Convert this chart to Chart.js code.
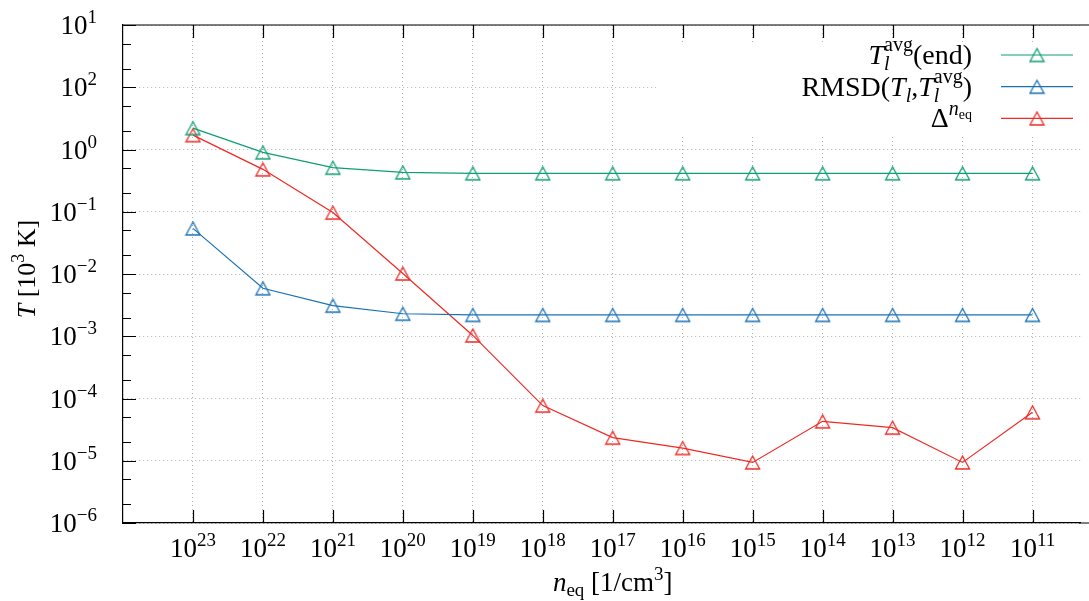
<!DOCTYPE html>
<html>
<head>
<meta charset="utf-8">
<script src="https://cdn.jsdelivr.net/npm/chart.js@4/dist/chart.umd.min.js"></script>
<style>
  html, body { margin: 0; padding: 0; background: #fff; }
</style>
</head>
<body>
<canvas id="myChart" width="1089" height="601"></canvas>
<script>
// n_eq decades along the x axis (exponents of 1/cm^3)
const nEqExp = [23, 22, 21, 20, 19, 18, 17, 16, 15, 14, 13, 12, 11];

// T_l^avg at the end of the run [10^3 K]
const tAvgEnd = [2.2, 0.9, 0.51, 0.43, 0.415, 0.415, 0.415, 0.415, 0.415, 0.415, 0.415, 0.415, 0.415];
// RMSD(T_l, T_l^avg) [10^3 K]
const rmsd = [0.054, 0.0059, 0.0031, 0.0023, 0.0022, 0.0022, 0.0022, 0.0022, 0.0022, 0.0022, 0.0022, 0.0022, 0.0022];
// Delta^{n_eq} [10^3 K]
const deltaNeq = [1.7, 0.48, 0.097, 0.0102, 0.00103, 7.7e-5, 2.35e-5, 1.6e-5, 9.4e-6, 4.3e-5, 3.4e-5, 9.4e-6, 6.0e-5];

// y axis decades and the exponents printed next to them (bottom to top)
const yTickVals = [1e-6, 1e-5, 1e-4, 1e-3, 1e-2, 1e-1, 1e0, 1e1, 1e2];
const yTickExp = ['\u22126', '\u22125', '\u22124', '\u22123', '\u22122', '\u22121', '0', '2', '1'];

const GREEN = '#0f9e74';
const BLUE = '#1972b6';
const RED = '#ee2a24';
const FONT = '"Liberation Serif", "DejaVu Serif", serif';

function triMark(color) {
  const c = document.createElement('canvas');
  c.width = 17; c.height = 17;
  const g = c.getContext('2d');
  g.strokeStyle = color;
  g.lineWidth = 1.3;
  g.beginPath();
  g.moveTo(8.5, 2);
  g.lineTo(15.5, 15);
  g.lineTo(1.5, 15);
  g.closePath();
  g.stroke();
  return c;
}

function fontOf(s) {
  return (s.i ? 'italic ' : '') + (s.sz || 27) + 'px ' + FONT;
}

// lay out a run of text pieces (sup/sub via dy, ov = next piece stacks on this one)
function layoutRich(ctx, segs) {
  let x = 0, hold = null;
  const out = [];
  for (const s of segs) {
    ctx.font = fontOf(s);
    const w = ctx.measureText(s.t).width;
    if (hold) {
      out.push(Object.assign({ x: hold.x }, s));
      x = hold.x + Math.max(hold.w, w);
      hold = null;
    } else {
      out.push(Object.assign({ x: x }, s));
      if (s.ov) hold = { x: x, w: w }; else x += w;
    }
  }
  return { parts: out, width: x };
}

function drawRich(ctx, segs, x, y, align) {
  const L = layoutRich(ctx, segs);
  let x0 = x;
  if (align === 'center') x0 = x - L.width / 2;
  if (align === 'right') x0 = x - L.width;
  ctx.textAlign = 'left';
  ctx.textBaseline = 'alphabetic';
  for (const p of L.parts) {
    ctx.font = fontOf(p);
    ctx.fillText(p.t, x0 + p.x, y + (p.dy || 0));
  }
}

const legendItems = [
  { color: GREEN, segs: [{ t: 'T', i: 1, sz: 28 }, { t: 'avg', sz: 20, dy: -13, ov: 1 }, { t: 'l', i: 1, sz: 20, dy: 6 }, { t: '(end)', sz: 28 }] },
  { color: BLUE, segs: [{ t: 'RMSD(', sz: 28 }, { t: 'T', i: 1, sz: 28 }, { t: 'l', i: 1, sz: 20, dy: 6 }, { t: ',', sz: 28 }, { t: 'T', i: 1, sz: 28 }, { t: 'avg', sz: 20, dy: -13, ov: 1 }, { t: 'l', i: 1, sz: 20, dy: 6 }, { t: ')', sz: 28 }] },
  { color: RED, segs: [{ t: '\u0394', sz: 28 }, { t: 'n', i: 1, sz: 20, dy: -12 }, { t: 'eq', sz: 14, dy: -8 }] }
];

const frame = {
  id: 'frame',
  beforeDatasetsDraw(chart) {
    const ctx = chart.ctx;
    const a = chart.chartArea;
    const xs = chart.scales.x, ys = chart.scales.y;
    ctx.save();
    // opaque key box
    ctx.fillStyle = '#fff';
    ctx.fillRect(656, 42, chart.width - 656, 93);
    ctx.strokeStyle = '#000';
    ctx.lineWidth = 1.2;
    ctx.beginPath();
    // frame runs on past the right edge of the canvas
    ctx.moveTo(a.left, a.top);
    ctx.lineTo(chart.width, a.top);
    ctx.moveTo(a.right - 2, a.bottom);
    ctx.lineTo(chart.width, a.bottom);
    // inward ticks on bottom and top
    nEqExp.forEach((e, i) => {
      const px = Math.round(xs.getPixelForValue(i)) + 0.5;
      ctx.moveTo(px, a.bottom); ctx.lineTo(px, a.bottom - 13);
      ctx.moveTo(px, a.top); ctx.lineTo(px, a.top + 13);
    });
    // major ticks on the left, minor ones at 2x and 5x
    yTickVals.forEach((v, k) => {
      const py = Math.round(ys.getPixelForValue(v)) + 0.5;
      ctx.moveTo(a.left, py); ctx.lineTo(a.left + 13, py);
      if (k < yTickVals.length - 1) {
        [2, 5].forEach((m) => {
          const pm = Math.round(ys.getPixelForValue(v * m)) + 0.5;
          ctx.moveTo(a.left, pm); ctx.lineTo(a.left + 8, pm);
        });
      }
    });
    ctx.stroke();
    ctx.restore();
  },
  afterDraw(chart) {
    const ctx = chart.ctx;
    const a = chart.chartArea;
    const xs = chart.scales.x, ys = chart.scales.y;
    ctx.save();
    ctx.fillStyle = '#000';
    // x tick labels
    nEqExp.forEach((e, i) => {
      drawRich(ctx, [{ t: '10' }, { t: String(e), sz: 19, dy: -11 }], xs.getPixelForValue(i), 557, 'center');
    });
    // y tick labels
    yTickVals.forEach((v, k) => {
      drawRich(ctx, [{ t: '10' }, { t: yTickExp[k], sz: 19, dy: -11 }], 97, ys.getPixelForValue(v) + 9, 'right');
    });
    // axis titles
    const xMid = (xs.getPixelForValue(0) + xs.getPixelForValue(nEqExp.length - 1)) / 2;
    drawRich(ctx, [{ t: 'n', i: 1 }, { t: 'eq', sz: 19, dy: 5 }, { t: ' [1/cm' }, { t: '3', sz: 19, dy: -11 }, { t: ']' }], xMid, 591, 'center');
    ctx.save();
    ctx.translate(35, (a.top + a.bottom) / 2 - 5);
    ctx.rotate(-Math.PI / 2);
    drawRich(ctx, [{ t: 'T', i: 1, sz: 26 }, { t: ' [10', sz: 26 }, { t: '3', sz: 18, dy: -11 }, { t: ' K]', sz: 26 }], 0, 0, 'center');
    ctx.restore();
    // key
    legendItems.forEach((it, r) => {
      const y = 55 + r * 31.7;
      drawRich(ctx, it.segs, 972, y + 9, 'right');
      ctx.strokeStyle = it.color;
      ctx.lineWidth = 1.2;
      ctx.beginPath();
      ctx.moveTo(1001, y); ctx.lineTo(1073, y);
      ctx.stroke();
      const m = triMark(it.color);
      ctx.drawImage(m, 1037 - m.width / 2, y - m.height / 2);
    });
    ctx.restore();
  }
};

function series(label, vals, color) {
  return {
    label: label,
    data: vals.map((v, i) => ({ x: i, y: v })),
    borderColor: color,
    borderWidth: 1.2,
    pointStyle: triMark(color),
    pointRadius: 7,
    pointHoverRadius: 7,
    tension: 0,
    fill: false
  };
}

new Chart(document.getElementById('myChart').getContext('2d'), {
  type: 'line',
  data: {
    datasets: [
      series('T_l^avg(end)', tAvgEnd, GREEN),
      series('RMSD(T_l,T_l^avg)', rmsd, BLUE),
      series('Delta^n_eq', deltaNeq, RED)
    ]
  },
  options: {
    responsive: false,
    animation: false,
    devicePixelRatio: 1,
    layout: { padding: { left: 123, top: 25, right: 0, bottom: 78 } },
    plugins: { legend: { display: false }, tooltip: { enabled: false } },
    scales: {
      x: {
        type: 'linear',
        min: -1,
        max: 12.69,
        afterBuildTicks: (s) => { s.ticks = nEqExp.map((e, i) => ({ value: i })); },
        ticks: { display: false },
        grid: { color: '#b0b0b0', lineWidth: 1, drawTicks: false },
        border: { color: '#000', width: 1.2, dash: [1, 3] }
      },
      y: {
        type: 'logarithmic',
        min: 1e-6,
        max: 1e2,
        afterBuildTicks: (s) => { s.ticks = yTickVals.map((v) => ({ value: v })); },
        ticks: { display: false },
        grid: { color: '#b0b0b0', lineWidth: 1, drawTicks: false },
        border: { color: '#000', width: 1.2, dash: [1, 3] }
      }
    }
  },
  plugins: [frame]
});
</script>
</body>
</html>
